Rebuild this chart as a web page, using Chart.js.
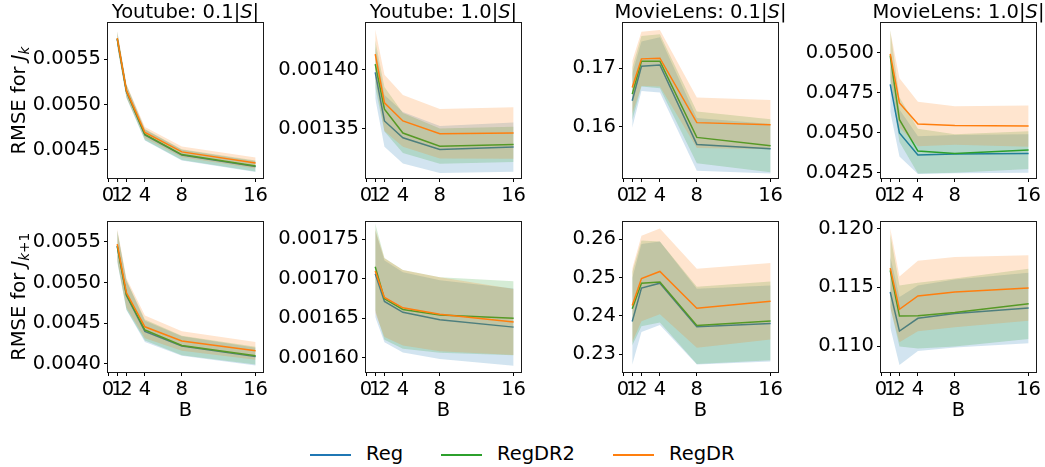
<!DOCTYPE html>
<html>
<head>
<meta charset="utf-8">
<script src="https://cdn.jsdelivr.net/npm/chart.js@4.4.0/dist/chart.umd.min.js"></script>
<style>
  body { margin: 0; background: #fff; width: 1045px; height: 467px; position: relative; overflow: hidden; font-family: "DejaVu Sans", sans-serif; }
  canvas { position: absolute; }
  .leg { position: absolute; top: 442px; font-size: 19.5px; color: #000; white-space: nowrap; }
  .leg i { position: absolute; top: 12px; height: 2px; width: 41px; }
</style>
</head>
<body>
<div class="leg" style="left:310px"><i style="left:0;background:#1f77b4"></i><span style="margin-left:56px">Reg</span></div>
<div class="leg" style="left:441px"><i style="left:0;background:#2ca02c"></i><span style="margin-left:56px">RegDR2</span></div>
<div class="leg" style="left:613px"><i style="left:0;background:#ff7f0e"></i><span style="margin-left:56px">RegDR</span></div>
<script>
// valeurs de B
const B = [1, 2, 4, 8, 16];
const xTicks = [0, 1, 2, 4, 8, 16];
const names = ['Reg', 'RegDR2', 'RegDR'];

// Youtube 0.1|S| - J_k
const yt01k_reg = [0.005722, 0.005143, 0.004664, 0.004442, 0.004316];
const yt01k_reg_sd = [0.00008, 0.00007, 0.00006, 0.00006, 0.00006];
const yt01k_dr2 = [0.005726, 0.005148, 0.004670, 0.004448, 0.004323];
const yt01k_dr2_sd = [0.00008, 0.00007, 0.00006, 0.00006, 0.00006];
const yt01k_dr = [0.005732, 0.005153, 0.004692, 0.004478, 0.004356];
const yt01k_dr_sd = [0.00008, 0.00007, 0.00006, 0.00006, 0.00006];
const yt01k_ticks = [0.0045, 0.0050, 0.0055];

// Youtube 1.0|S| - J_k
const yt10k_reg = [0.001398, 0.0013566, 0.0013423, 0.0013323, 0.0013343];
const yt10k_reg_sd = [0.000022, 0.000022, 0.000022, 0.000020, 0.000021];
const yt10k_dr2 = [0.001405, 0.0013666, 0.0013463, 0.0013351, 0.0013366];
const yt10k_dr2_sd = [0.000020, 0.000019, 0.000017, 0.000015, 0.000015];
const yt10k_dr = [0.0014134, 0.001372, 0.0013566, 0.0013457, 0.0013463];
const yt10k_dr_sd = [0.000021, 0.000024, 0.000022, 0.000021, 0.000022];
const yt10k_ticks = [0.00135, 0.00140];

// MovieLens 0.1|S| - J_k
const ml01k_reg = [0.16446, 0.17034, 0.17057, 0.15703, 0.15629];
const ml01k_reg_sd = [0.0046, 0.0042, 0.0047, 0.0045, 0.0042];
const ml01k_dr2 = [0.1656, 0.1712, 0.1712, 0.15823, 0.1568];
const ml01k_dr2_sd = [0.0045, 0.0043, 0.0046, 0.0044, 0.0045];
const ml01k_dr = [0.16674, 0.1716, 0.17171, 0.16074, 0.1604];
const ml01k_dr_sd = [0.0045, 0.0046, 0.0048, 0.0043, 0.0042];
const ml01k_ticks = [0.16, 0.17];

// MovieLens 1.0|S| - J_k
const ml10k_reg = [0.04804, 0.0450, 0.04362, 0.04368, 0.04372];
const ml10k_reg_sd = [0.0017, 0.00147, 0.00118, 0.0012, 0.0012];
const ml10k_dr2 = [0.04983, 0.04583, 0.04387, 0.04372, 0.04393];
const ml10k_dr2_sd = [0.0016, 0.0014, 0.0014, 0.0012, 0.00118];
const ml10k_dr = [0.04994, 0.04688, 0.04556, 0.04547, 0.04543];
const ml10k_dr_sd = [0.00147, 0.00154, 0.00139, 0.0012, 0.00129];
const ml10k_ticks = [0.0425, 0.0450, 0.0475, 0.0500];

// Youtube 0.1|S| - J_k+1
const yt01k1_reg = [0.005445, 0.004842, 0.004401, 0.00422, 0.00409];
const yt01k1_reg_sd = [0.00019, 0.00018, 0.00013, 0.00012, 0.00011];
const yt01k1_dr2 = [0.005453, 0.00485, 0.004417, 0.004228, 0.004102];
const yt01k1_dr2_sd = [0.00019, 0.00018, 0.00013, 0.00012, 0.00011];
const yt01k1_dr = [0.005472, 0.004874, 0.004457, 0.004283, 0.004161];
const yt01k1_dr_sd = [0.00019, 0.00018, 0.00014, 0.00012, 0.00011];
const yt01k1_ticks = [0.0040, 0.0045, 0.0050, 0.0055];

// Youtube 1.0|S| - J_k+1
const yt10k1_reg = [0.0017063, 0.0016713, 0.0016574, 0.001648, 0.0016386];
const yt10k1_reg_sd = [0.000055, 0.000052, 0.000051, 0.00005, 0.000049];
const yt10k1_dr2 = [0.0017153, 0.0016745, 0.0016611, 0.0016541, 0.00165];
const yt10k1_dr2_sd = [0.000055, 0.000052, 0.00005, 0.000048, 0.000047];
const yt10k1_dr = [0.00171, 0.0016762, 0.0016631, 0.0016549, 0.0016451];
const yt10k1_dr_sd = [0.000053, 0.00005, 0.000048, 0.000047, 0.000042];
const yt10k1_ticks = [0.00160, 0.00165, 0.00170, 0.00175];

// MovieLens 0.1|S| - J_k+1
const ml01k1_reg = [0.2385, 0.24724, 0.24852, 0.23716, 0.23799];
const ml01k1_reg_sd = [0.0113, 0.0115, 0.0109, 0.0099, 0.0099];
const ml01k1_dr2 = [0.24184, 0.2485, 0.24883, 0.2375, 0.23866];
const ml01k1_dr2_sd = [0.0096, 0.0112, 0.0106, 0.0101, 0.0103];
const ml01k1_dr = [0.24268, 0.24975, 0.25159, 0.24198, 0.24382];
const ml01k1_dr_sd = [0.0096, 0.0112, 0.0112, 0.0103, 0.0100];
const ml01k1_ticks = [0.23, 0.24, 0.25, 0.26];

// MovieLens 1.0|S| - J_k+1
const ml10k1_reg = [0.11461, 0.11128, 0.11237, 0.11278, 0.11324];
const ml10k1_reg_sd = [0.003, 0.0029, 0.0028, 0.0029, 0.003];
const ml10k1_dr2 = [0.11646, 0.11256, 0.11259, 0.11286, 0.1136];
const ml10k1_dr2_sd = [0.0031, 0.0026, 0.0028, 0.0029, 0.003];
const ml10k1_dr = [0.11665, 0.11313, 0.11427, 0.1146, 0.11495];
const ml10k1_dr_sd = [0.0034, 0.0028, 0.003, 0.003, 0.0028];
const ml10k1_ticks = [0.110, 0.115, 0.120];

// cores (tab10)
const cores = ['#1f77b4', '#2ca02c', '#ff7f0e'];
const preenchimento = ['rgba(31,119,180,0.2)', 'rgba(44,160,44,0.2)', 'rgba(255,127,14,0.2)'];

const FONTE = 19.5;
const FAMILIA = 'DejaVu Sans';
const YW = 108, PW = 155, PH = 155, PR = 16;
const colLeft = [108, 366, 623, 881];

const paineis = [
  { title: ['Youtube: 0.1|', 'S', '|'], col: 0, row: 0, mean: [yt01k_reg, yt01k_dr2, yt01k_dr], sd: [yt01k_reg_sd, yt01k_dr2_sd, yt01k_dr_sd], ticks: yt01k_ticks, min: 0.00419, max: 0.005899, dec: 4 },
  { title: ['Youtube: 1.0|', 'S', '|'], col: 1, row: 0, mean: [yt10k_reg, yt10k_dr2, yt10k_dr], sd: [yt10k_reg_sd, yt10k_dr2_sd, yt10k_dr_sd], ticks: yt10k_ticks, min: 0.001308, max: 0.00144, dec: 5 },
  { title: ['MovieLens: 0.1|', 'S', '|'], col: 2, row: 0, mean: [ml01k_reg, ml01k_dr2, ml01k_dr], sd: [ml01k_reg_sd, ml01k_dr2_sd, ml01k_dr_sd], ticks: ml01k_ticks, min: 0.15131, max: 0.17771, dec: 2 },
  { title: ['MovieLens: 1.0|', 'S', '|'], col: 3, row: 0, mean: [ml10k_reg, ml10k_dr2, ml10k_dr], sd: [ml10k_reg_sd, ml10k_dr2_sd, ml10k_dr_sd], ticks: ml10k_ticks, min: 0.042184, max: 0.051875, dec: 4 },
  { col: 0, row: 1, mean: [yt01k1_reg, yt01k1_dr2, yt01k1_dr], sd: [yt01k1_reg_sd, yt01k1_dr2_sd, yt01k1_dr_sd], ticks: yt01k1_ticks, min: 0.003901, max: 0.005749, dec: 4 },
  { col: 1, row: 1, mean: [yt10k1_reg, yt10k1_dr2, yt10k1_dr], sd: [yt10k1_reg_sd, yt10k1_dr2_sd, yt10k1_dr_sd], ticks: yt10k1_ticks, min: 0.0015816, max: 0.0017725, dec: 5 },
  { col: 2, row: 1, mean: [ml01k1_reg, ml01k1_dr2, ml01k1_dr], sd: [ml01k1_reg_sd, ml01k1_dr2_sd, ml01k1_dr_sd], ticks: ml01k1_ticks, min: 0.22532, max: 0.26459, dec: 2 },
  { col: 3, row: 1, mean: [ml10k1_reg, ml10k1_dr2, ml10k1_dr], sd: [ml10k1_reg_sd, ml10k1_dr2_sd, ml10k1_dr_sd], ticks: ml10k1_ticks, min: 0.10779, max: 0.1206, dec: 3 }
];

// texto com partes em italico / subscrito
function desenharTexto(ctx, partes, x, y) {
  let larg = 0;
  partes.forEach(p => {
    ctx.font = (p.it ? 'italic ' : '') + (p.sub ? FONTE * 0.7 : FONTE) + 'px "' + FAMILIA + '"';
    p.w = ctx.measureText(p.t).width;
    larg += p.w;
  });
  let cx = x - larg / 2;
  ctx.textAlign = 'left';
  ctx.textBaseline = 'alphabetic';
  partes.forEach(p => {
    ctx.font = (p.it ? 'italic ' : '') + (p.sub ? FONTE * 0.7 : FONTE) + 'px "' + FAMILIA + '"';
    ctx.fillText(p.t, cx, y + (p.sub ? 4 : 0));
    cx += p.w;
  });
}

const moldura = {
  id: 'moldura',
  afterDraw(chart, args, opts) {
    const ctx = chart.ctx, a = chart.chartArea;
    ctx.save();
    ctx.strokeStyle = '#1a1a1a';
    ctx.lineWidth = 1;
    ctx.strokeRect(Math.round(a.left) - 0.5, Math.round(a.top) - 0.5, Math.round(a.right - a.left) + 1, Math.round(a.bottom - a.top) + 1);
    ctx.fillStyle = '#000';
    const cxm = (a.left + a.right) / 2;
    if (opts.title) {
      desenharTexto(ctx, [{ t: opts.title[0] }, { t: opts.title[1], it: true }, { t: opts.title[2] }], cxm, a.top - 5);
    }
    if (opts.row === 1) {
      desenharTexto(ctx, [{ t: 'B' }], cxm, a.bottom + 44);
    }
    if (opts.col === 0) {
      ctx.translate(25, (a.top + a.bottom) / 2);
      ctx.rotate(-Math.PI / 2);
      const sub = opts.row === 0 ? [{ t: 'k', it: true, sub: true }] : [{ t: 'k', it: true, sub: true }, { t: '+1', sub: true }];
      desenharTexto(ctx, [{ t: 'RMSE for ' }, { t: 'J', it: true }].concat(sub), 0, 0);
    }
    ctx.restore();
  }
};

function criarPainel(p) {
  const cv = document.createElement('canvas');
  const padTop = p.row === 0 ? 23 : 10;
  const plotTop = p.row === 0 ? 23 : 217;
  const xh = p.row === 0 ? 32 : 52;
  cv.width = YW + PW + PR;
  cv.height = padTop + PH + xh;
  cv.style.left = (colLeft[p.col] - YW) + 'px';
  cv.style.top = (plotTop - padTop) + 'px';
  document.body.appendChild(cv);

  // ordem: RegDR primeiro no array (desenhado por ultimo, fica por cima)
  const datasets = [];
  for (let s = 2; s >= 0; s--) {
    const m = p.mean[s], sd = p.sd[s];
    datasets.push({ label: names[s] + '_hi', data: B.map((x, i) => ({ x: x, y: m[i] + sd[i] })), borderColor: 'transparent', borderWidth: 0, pointRadius: 0, fill: '+1', backgroundColor: preenchimento[s] });
    datasets.push({ label: names[s] + '_lo', data: B.map((x, i) => ({ x: x, y: m[i] - sd[i] })), borderColor: 'transparent', borderWidth: 0, pointRadius: 0, fill: false });
    datasets.push({ label: names[s], data: B.map((x, i) => ({ x: x, y: m[i] })), borderColor: cores[s], borderWidth: 1.5, pointRadius: 0, fill: false });
  }

  const fonte = { family: FAMILIA, size: FONTE };
  new Chart(cv, {
    type: 'line',
    data: { datasets: datasets },
    options: {
      responsive: false,
      animation: false,
      devicePixelRatio: 1,
      layout: { padding: { top: padTop, right: PR, left: 0, bottom: 0 } },
      elements: { line: { tension: 0 } },
      plugins: {
        legend: { display: false },
        tooltip: { enabled: false },
        filler: { drawTime: 'beforeDatasetDraw' },
        moldura: { title: p.title, row: p.row, col: p.col }
      },
      scales: {
        x: {
          type: 'linear', min: 0, max: 16.8,
          afterBuildTicks: sc => { sc.ticks = xTicks.map(v => ({ value: v })); },
          afterFit: sc => { sc.height = xh; },
          ticks: { autoSkip: false, maxRotation: 0, font: fonte, color: '#000', padding: 2 },
          grid: { drawOnChartArea: false, tickLength: 4, color: '#000' },
          border: { display: false }
        },
        y: {
          type: 'linear', min: p.min, max: p.max,
          afterBuildTicks: sc => { sc.ticks = p.ticks.map(v => ({ value: v })); },
          afterFit: sc => { sc.width = YW; },
          ticks: { font: fonte, color: '#000', padding: 3, callback: v => Number(v).toFixed(p.dec) },
          grid: { drawOnChartArea: false, tickLength: 4, color: '#000' },
          border: { display: false }
        }
      }
    },
    plugins: [moldura]
  });
}

paineis.forEach(criarPainel);
</script>
</body>
</html>
